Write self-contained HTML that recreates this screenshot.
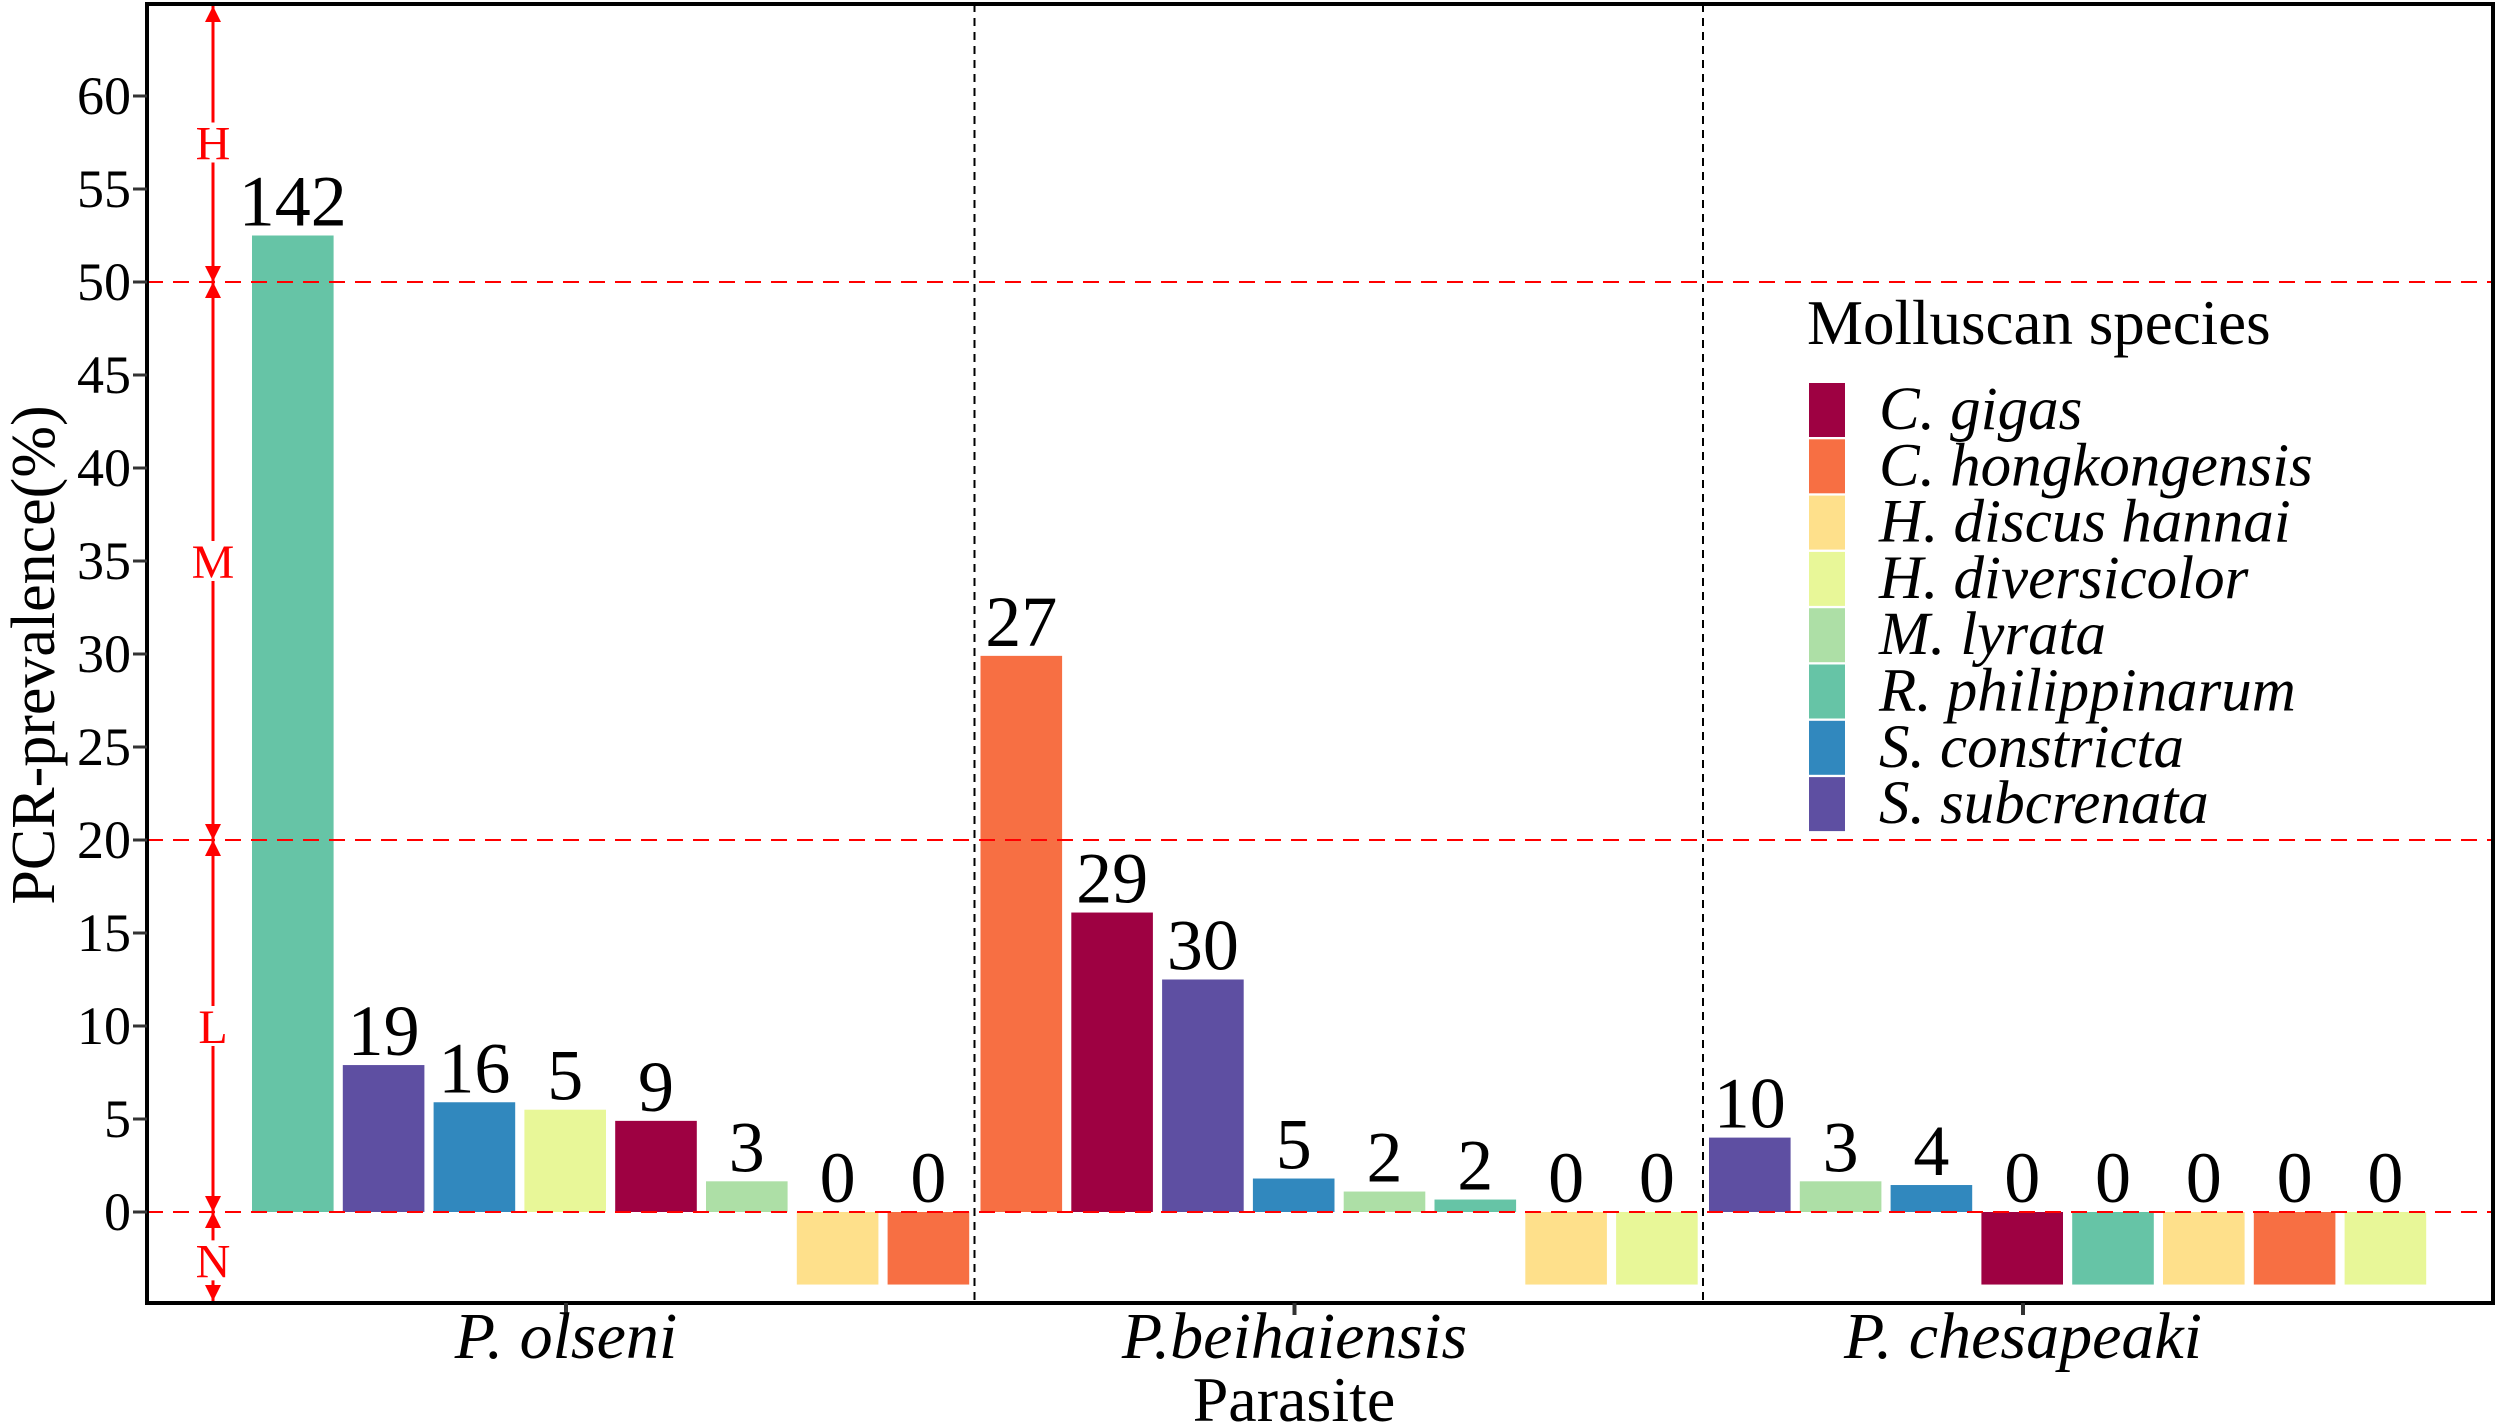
<!DOCTYPE html>
<html><head><meta charset="utf-8"><style>
html,body{margin:0;padding:0;background:#fff;}
svg{display:block;}
text{font-family:"Liberation Serif","Times New Roman","DejaVu Serif",serif;}
</style></head><body>
<svg id="chart" width="2500" height="1427" viewBox="0 0 2500 1427" xmlns="http://www.w3.org/2000/svg" font-family="Liberation Serif, serif"></svg>
<script>
// ---- data ----
const parasites = ["P. olseni", "P.beihaiensis", "P. chesapeaki"];
const species = ["C. gigas","C. hongkongensis","H. discus hannai","H. diversicolor","M. lyrata","R. philippinarum","S. constricta","S. subcrenata"];
const speciesColors = ["#9E0142","#F76F43","#FEE08B","#E8F798","#ADDFA6","#66C4A6","#3188BE","#5E4FA2"];
const olseniSpecies = [5,7,6,3,0,4,2,1];
const olseniValues = [52.5,7.9,5.9,5.5,4.9,1.65,-3.9,-3.9];
const olseniCounts = ["142","19","16","5","9","3","0","0"];
const beihaiSpecies = [1,0,7,6,4,5,2,3];
const beihaiValues = [29.9,16.1,12.5,1.8,1.1,0.67,-3.9,-3.9];
const beihaiCounts = ["27","29","30","5","2","2","0","0"];
const chesaSpecies = [7,4,6,0,5,2,1,3];
const chesaValues = [4.0,1.65,1.45,-3.9,-3.9,-3.9,-3.9,-3.9];
const chesaCounts = ["10","3","4","0","0","0","0","0"];
const yTicks = [0,5,10,15,20,25,30,35,40,45,50,55,60];
const thresholds = [50,20,0];
const levelLabels = ["H","M","L","N"];
const levelCenters = [57.5,35,10,-2.6];

// ---- axes ----
const L=147,R=2493,T=4,B=1303;
const y0px=1212, unit=18.6;
function y(v){return y0px - v*unit;}
function groupStart(i){return 252 + 728.5*i;}
function barX(i,j){return groupStart(i) + j*90.8;}
const barW=81.6;
const NS="http://www.w3.org/2000/svg";
const svg=document.getElementById('chart');
function mk(tag,attrs,parent){const e=document.createElementNS(NS,tag);for(const k in attrs)e.setAttribute(k,attrs[k]);if(tag==='text')e.setAttribute('font-family','Liberation Serif, Times New Roman, serif');(parent||svg).appendChild(e);return e;}

// separators
[1,2].forEach(function(i){
  const xs = groupStart(i) - 6;
  const ln=mk('line',{x1:xs,x2:xs,y1:T,y2:B,stroke:'#000','stroke-width':2,'stroke-dasharray':'8,6'});
  
  
});

// bars
const groups=[[olseniSpecies,olseniValues,olseniCounts],[beihaiSpecies,beihaiValues,beihaiCounts],[chesaSpecies,chesaValues,chesaCounts]];
groups.forEach(function(g,i){
  g[1].forEach(function(v,j){
    const x=barX(i,j);
    const top=Math.min(y(v),y(0)), h=Math.abs(y(v)-y(0));
    const r=mk('rect',{x:x,y:top,width:barW,height:h,fill:speciesColors[g[0][j]]});
    
    
    const ly = v>0 ? y(v)-10 : y(0)-10;
    const t=mk('text',{x:x+barW/2,y:ly,'text-anchor':'middle','font-size':72,fill:'#000'});
    t.textContent=g[2][j];
    
    
  });
});

// threshold lines
thresholds.forEach(function(v){
  const ln=mk('line',{x1:L,x2:R,y1:y(v),y2:y(v),stroke:'#ff0000','stroke-width':2,'stroke-dasharray':'16,10'});
  
  
});

// red level arrows
const ax=213;
const bounds=[T+2,y(50),y(20),y(0),B-2];
const rl=mk('line',{x1:ax,x2:ax,y1:bounds[0],y2:bounds[4],stroke:'#ff0000','stroke-width':3});


bounds.forEach(function(b,k){
  if(k<4){const a=mk('polygon',{points:(ax-8)+','+(b+16)+' '+(ax+8)+','+(b+16)+' '+ax+','+b,fill:'#ff0000'});
    }
  if(k>0){const a=mk('polygon',{points:(ax-8)+','+(b-16)+' '+(ax+8)+','+(b-16)+' '+ax+','+b,fill:'#ff0000'});
    }
});
levelLabels.forEach(function(s,k){
  const cy=y(levelCenters[k]);
  mk('rect',{x:ax-20,y:cy-20,width:40,height:40,fill:'#fff'});
  const t=mk('text',{x:ax,y:cy+17,'text-anchor':'middle','font-size':48,fill:'#ff0000'});
  t.textContent=s;
  
  
});

// frame
const fr=mk('rect',{x:L,y:T,width:R-L,height:B-T,fill:'none',stroke:'#000','stroke-width':4});


// y ticks
yTicks.forEach(function(v){
  mk('line',{x1:L-14,x2:L,y1:y(v),y2:y(v),stroke:'#333','stroke-width':3});
  const t=mk('text',{x:L-16,y:y(v)+18,'text-anchor':'end','font-size':54,fill:'#000'});
  t.textContent=v;
  
  
});
const yt=mk('text',{x:0,y:0,'text-anchor':'middle','font-size':62,fill:'#000',transform:'translate(54,655) rotate(-90)'});
yt.textContent='PCR-prevalence(%)';


// x ticks
parasites.forEach(function(p,i){
  const cx=566+728.5*i;
  mk('line',{x1:cx,x2:cx,y1:B,y2:B+12,stroke:'#333','stroke-width':4});
  const t=mk('text',{x:cx,y:1358,'text-anchor':'middle','font-size':66,'font-style':'italic',fill:'#000'});
  t.textContent=p;
  
  
});
const xt=mk('text',{x:1294,y:1421,'text-anchor':'middle','font-size':64,fill:'#000'});
xt.textContent='Parasite';


// legend
const lg=mk('g',{});

const lt=mk('text',{x:1807,y:344,'font-size':63,fill:'#000'},lg);
lt.textContent='Molluscan species';

species.forEach(function(s,k){
  const yy=383+k*56.3;
  const r=mk('rect',{x:1809,y:yy,width:36,height:54,fill:speciesColors[k]},lg);
  
  const t=mk('text',{x:1879,y:yy+46,'font-size':61,'font-style':'italic',fill:'#000'},lg);
  t.textContent=s;
  
});
</script>
</body></html>
